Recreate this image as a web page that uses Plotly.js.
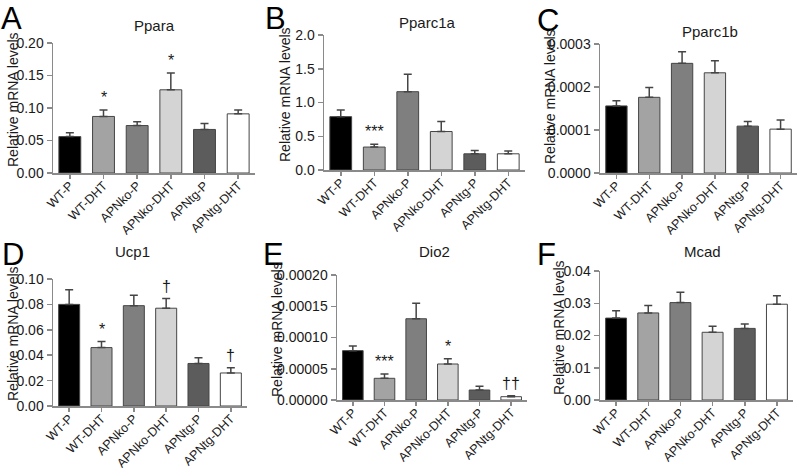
<!DOCTYPE html>
<html>
<head>
<meta charset="utf-8">
<script src="https://cdn.plot.ly/plotly-3.0.1.min.js"></script>
<style>html,body{margin:0;padding:0;background:#fff;}#chart{width:802px;height:472px;}</style>
</head>
<body>
<div id="chart"></div>
<script>
const categories = ['WT-P', 'WT-DHT', 'APNko-P', 'APNko-DHT', 'APNtg-P', 'APNtg-DHT'];
const barColors = ['#000000', '#a3a3a3', '#7f7f7f', '#d4d4d4', '#5c5c5c', '#ffffff'];

const pparaMean = [0.056, 0.087, 0.073, 0.128, 0.067, 0.091];
const pparaSem  = [0.006, 0.010, 0.006, 0.026, 0.009, 0.006];
const pparaSig  = ['', '*', '', '*', '', ''];

const pparc1aMean = [0.79, 0.34, 1.16, 0.57, 0.24, 0.24];
const pparc1aSem  = [0.10, 0.04, 0.26, 0.15, 0.05, 0.04];
const pparc1aSig  = ['', '***', '', '', '', ''];

const pparc1bMean = [0.000156, 0.000176, 0.000255, 0.000233, 0.000109, 0.000102];
const pparc1bSem  = [0.000012, 0.000023, 0.000027, 0.000028, 0.000011, 0.000021];
const pparc1bSig  = ['', '', '', '', '', ''];

const ucp1Mean = [0.080, 0.046, 0.079, 0.077, 0.0335, 0.026];
const ucp1Sem  = [0.0115, 0.0047, 0.0082, 0.0076, 0.0045, 0.0042];
const ucp1Sig  = ['', '*', '', '†', '', '†'];

const dio2Mean = [0.000079, 0.0000347, 0.000130, 0.0000576, 0.000016, 0.0000053];
const dio2Sem  = [0.0000075, 0.0000069, 0.000025, 0.0000085, 0.000006, 0.0000016];
const dio2Sig  = ['', '***', '', '*', '', '††'];

const mcadMean = [0.0254, 0.0270, 0.0302, 0.0210, 0.0222, 0.0297];
const mcadSem  = [0.0023, 0.0023, 0.0032, 0.0019, 0.0014, 0.0026];
const mcadSig  = ['', '', '', '', '', ''];

const geneNames = ['Ppara', 'Pparc1a', 'Pparc1b', 'Ucp1', 'Dio2', 'Mcad'];
const panelLetters = ['A', 'B', 'C', 'D', 'E', 'F'];
const yTitle = 'Relative mRNA levels';

const W = 802, H = 472;
const px = x => x / W;
const py = y => 1 - y / H;

const panels = [
  {mean: pparaMean, sem: pparaSem, sig: pparaSig, range: [0, 0.2], dtick: 0.05, fmt: '.2f',
   box: [53, 255, 43, 173], title: [154, 26], letter: [0, 0], ytitle: [13, 100]},
  {mean: pparc1aMean, sem: pparc1aSem, sig: pparc1aSig, range: [0, 2.0], dtick: 0.5, fmt: '.1f',
   box: [324, 525, 35, 170], title: [427, 23], letter: [264, 0], ytitle: [285, 95]},
  {mean: pparc1bMean, sem: pparc1bSem, sig: pparc1bSig, range: [0, 0.0003], dtick: 0.0001, fmt: '.4f',
   box: [600, 797, 44, 173], title: [710, 31], letter: [536, 2], ytitle: [550, 97]},
  {mean: ucp1Mean, sem: ucp1Sem, sig: ucp1Sig, range: [0, 0.10], dtick: 0.02, fmt: '.2f',
   box: [53, 247, 279, 406], title: [132, 251], letter: [1, 236], ytitle: [13, 334]},
  {mean: dio2Mean, sem: dio2Sem, sig: dio2Sig, range: [0, 0.0002], dtick: 0.00005, fmt: '.5f',
   box: [337, 527, 275, 400], title: [434, 251], letter: [262, 236], ytitle: [277, 330]},
  {mean: mcadMean, sem: mcadSem, sig: mcadSig, range: [0, 0.04], dtick: 0.01, fmt: '.2f',
   box: [600, 793, 271, 400], title: [702, 251], letter: [536, 236], ytitle: [559, 328]}
];

const FONT = 'Liberation Sans, Arial, sans-serif';
const axisColor = '#8a8a8a';
const data = [];
const annotations = [];
const layout = {
  width: W, height: H,
  margin: {l: 0, r: 0, t: 0, b: 0},
  paper_bgcolor: '#ffffff', plot_bgcolor: '#ffffff',
  showlegend: false, bargap: 0.35,
  font: {family: FONT, size: 14, color: '#1a1a1a'}
};

panels.forEach((p, i) => {
  const n = i === 0 ? '' : String(i + 1);
  const xa = 'x' + n, ya = 'y' + n;
  data.push({
    type: 'bar', x: categories, y: p.mean, xaxis: xa, yaxis: ya,
    marker: {color: barColors, line: {color: '#454545', width: 1}},
    error_y: {type: 'data', symmetric: false, array: p.sem, arrayminus: p.sem.map(() => 0),
              color: '#454545', thickness: 1.5, width: 4},
    hoverinfo: 'skip'
  });
  layout['xaxis' + n] = {
    domain: [px(p.box[0]), px(p.box[1])], anchor: ya, type: 'category',
    range: [-0.5, 5.5], showline: true, linecolor: axisColor, linewidth: 1.5,
    ticks: 'outside', ticklen: 4, tickcolor: axisColor, tickwidth: 1.5,
    ticklabelstandoff: -5,
    tickangle: -45, tickfont: {family: FONT, size: 12.5, color: '#1a1a1a'},
    showgrid: false, zeroline: false, automargin: false, fixedrange: true
  };
  layout['yaxis' + n] = {
    domain: [py(p.box[3]), py(p.box[2])], anchor: xa,
    range: p.range, tick0: 0, dtick: p.dtick, tickformat: p.fmt,
    showline: true, linecolor: axisColor, linewidth: 1.5,
    ticks: 'outside', ticklen: 5, tickcolor: axisColor, tickwidth: 1.5,
    tickfont: {family: FONT, size: 14, color: '#1a1a1a'},
    showgrid: false, zeroline: false, automargin: false, fixedrange: true
  };
  annotations.push({
    xref: 'paper', yref: 'paper', x: px(p.title[0]), y: py(p.title[1]),
    xanchor: 'center', yanchor: 'middle', text: geneNames[i], showarrow: false,
    font: {family: FONT, size: 15, color: '#1a1a1a'}
  });
  annotations.push({
    xref: 'paper', yref: 'paper', x: px(p.letter[0]), y: py(p.letter[1]),
    xanchor: 'left', yanchor: 'top', borderpad: 0, text: panelLetters[i], showarrow: false,
    font: {family: FONT, size: 31, color: '#000'}
  });
  annotations.push({
    xref: 'paper', yref: 'paper', x: px(p.ytitle[0]), y: py(p.ytitle[1]),
    xanchor: 'center', yanchor: 'middle', text: yTitle, textangle: -90, showarrow: false,
    font: {family: FONT, size: 14, color: '#1a1a1a'}
  });
  p.sig.forEach((s, j) => {
    if (!s) return;
    annotations.push({
      xref: xa, yref: ya, x: categories[j], y: p.mean[j] + p.sem[j],
      xanchor: 'center', yanchor: 'bottom', yshift: 2, text: s, showarrow: false,
      font: {family: FONT, size: 16, color: '#1a1a1a'}
    });
  });
});
layout.annotations = annotations;

Plotly.newPlot('chart', data, layout, {staticPlot: true, displayModeBar: false});
</script>
</body>
</html>
